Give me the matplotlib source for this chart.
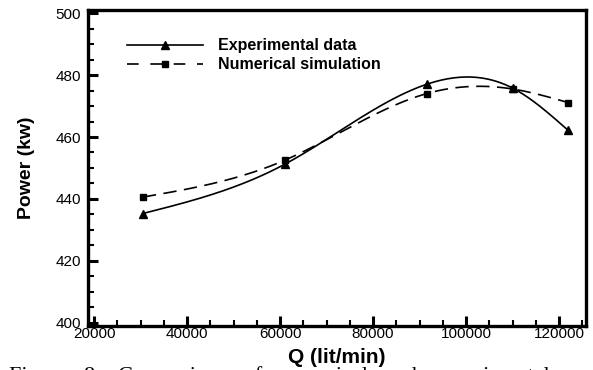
"""Power vs flow rate: experimental data against numerical simulation."""

import numpy as np
import matplotlib
matplotlib.use("Agg")
import matplotlib.pyplot as plt
from matplotlib.ticker import MultipleLocator

Q_EXP = [30500, 61000, 91500, 110000, 122000]
P_EXP = [435.3, 451.2, 477.0, 475.8, 462.1]

Q_NUM = [30500, 61000, 91500, 110000, 122000]
P_NUM = [440.6, 452.5, 474.0, 475.5, 471.1]

SANS = "Liberation Sans"


def natural_spline(x, y, n=300):
    # plain natural cubic spline, only used to draw the smooth curve
    x = np.asarray(x, float)
    y = np.asarray(y, float)
    k = len(x)
    h = np.diff(x)
    A = np.zeros((k, k))
    r = np.zeros(k)
    A[0, 0] = A[-1, -1] = 1
    for i in range(1, k - 1):
        A[i, i - 1] = h[i - 1]
        A[i, i] = 2 * (h[i - 1] + h[i])
        A[i, i + 1] = h[i]
        r[i] = 6 * ((y[i + 1] - y[i]) / h[i] - (y[i] - y[i - 1]) / h[i - 1])
    m = np.linalg.solve(A, r)
    xs = np.linspace(x[0], x[-1], n)
    j = np.clip(np.searchsorted(x, xs) - 1, 0, k - 2)
    t0 = x[j + 1] - xs
    t1 = xs - x[j]
    hj = h[j]
    ys = (m[j] * t0**3 + m[j + 1] * t1**3) / (6 * hj) \
        + (y[j] / hj - m[j] * hj / 6) * t0 + (y[j + 1] / hj - m[j + 1] * hj / 6) * t1
    return xs, ys


fig = plt.figure(figsize=(5.93, 3.70), dpi=100)
ax = fig.add_axes([0.1484, 0.119, 0.8398, 0.854])

xs, ys = natural_spline(Q_EXP, P_EXP)
ax.plot(xs, ys, color="black", lw=1.2)
xs, ys = natural_spline(Q_NUM, P_NUM)
ax.plot(xs, ys, color="black", lw=1.2, dashes=(8, 4.5))

ax.plot(Q_EXP, P_EXP, ls="none", marker="^", ms=6, color="black")
ax.plot(Q_NUM, P_NUM, ls="none", marker="s", ms=5, color="black")

# legend proxies
ax.plot([], [], color="black", lw=1.2, marker="^", ms=6, label="Experimental data")
ax.plot([], [], color="black", lw=1.2, marker="s", ms=5, dashes=(7, 7),
        label="Numerical simulation")
ax.legend(loc="upper left", bbox_to_anchor=(0.065, 0.93), frameon=False,
          handlelength=4.8, handletextpad=0.9, labelspacing=0.25,
          borderaxespad=0, prop={"family": SANS, "weight": "bold", "size": 11.5})

ax.set_xlim(18700, 125800)
ax.set_ylim(399, 501)
ax.xaxis.set_major_locator(MultipleLocator(20000))
ax.xaxis.set_minor_locator(MultipleLocator(5000))
ax.yaxis.set_major_locator(MultipleLocator(20))
ax.yaxis.set_minor_locator(MultipleLocator(5))
ax.tick_params(which="major", direction="in", length=7, width=2.2, labelsize=11)
ax.tick_params(axis="y", which="major", pad=5)
ax.tick_params(axis="x", which="major", pad=1)
ax.tick_params(which="minor", direction="in", length=4, width=1.5)
for lab in ax.get_xticklabels() + ax.get_yticklabels():
    lab.set_family(SANS)
for s in ax.spines.values():
    s.set_linewidth(2.4)

ax.set_xlabel("Q (lit/min)", family=SANS, weight="bold", fontsize=15)
ax.xaxis.set_label_coords(0.5, -0.07)
ax.set_ylabel("Power (kw)", family=SANS, weight="bold", fontsize=14, labelpad=15)

# caption of the source page, cut by the bottom edge
fig.text(0.015, 0.010, "Figure   8:   Comparison   of   numerical   and   experimental",
         family="Liberation Serif", fontsize=16, va="top", ha="left")

fig.savefig("out.png", dpi=100)
